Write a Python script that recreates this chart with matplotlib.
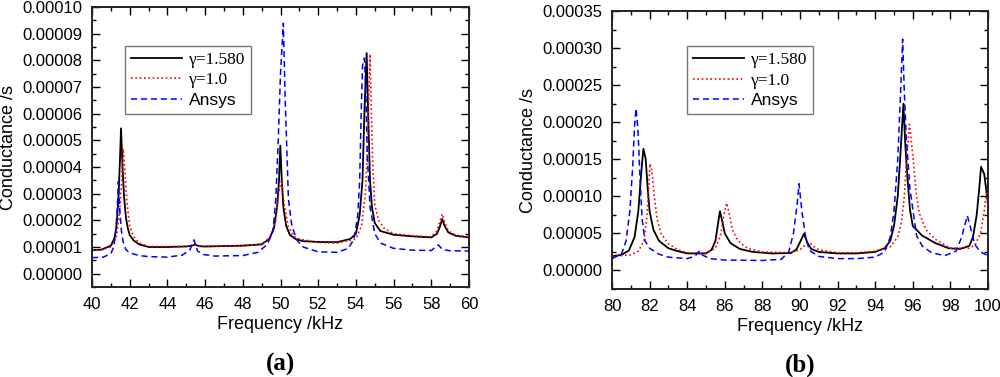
import matplotlib
matplotlib.use('Agg')
import matplotlib.pyplot as plt
from matplotlib.ticker import MultipleLocator, FormatStrFormatter

plt.rcParams['font.family'] = 'Liberation Sans'

# conductance values below are in units of 1e-5 S
SCALE = 1e-5

# ---- panel (a) ----
a_fit_f = [40, 40.5, 41.0, 41.2, 41.3, 41.4, 41.48, 41.54, 41.62, 41.7, 41.8, 41.9, 42.0, 42.2,
           42.5, 43, 44, 45, 45.3, 45.46, 45.7, 46, 48, 49, 49.4, 49.65, 49.82, 49.92, 49.99,
           50.07, 50.15, 50.3, 50.5, 50.8, 51.2, 52, 53, 53.7, 54.0, 54.2, 54.35, 54.45, 54.57,
           54.65, 54.75, 54.85, 55.0, 55.3, 56, 57, 58, 58.3, 58.45, 58.58, 58.7, 58.9, 59.3, 60]
a_fit_g = [0.88, 0.9, 1.05, 1.35, 1.8, 2.8, 4.2, 5.45, 4.0, 2.9, 2.1, 1.7, 1.45, 1.25,
           1.1, 1.0, 1.0, 1.02, 1.05, 1.09, 1.03, 1.02, 1.05, 1.1, 1.3, 1.7, 2.5, 3.5, 4.8,
           3.5, 2.5, 1.8, 1.45, 1.3, 1.22, 1.19, 1.18, 1.3, 1.5, 2.2, 3.5, 6.0, 8.27,
           6.0, 3.5, 2.5, 1.9, 1.6, 1.46, 1.4, 1.36, 1.5, 1.75, 2.05, 1.8, 1.55, 1.42, 1.36]

a_one_f = [40, 40.5, 41.0, 41.3, 41.45, 41.55, 41.66, 41.75, 41.85, 42.0, 42.2, 42.5, 43, 45,
           45.3, 45.5, 45.7, 46, 48, 49, 49.5, 49.75, 49.9, 50.05, 50.2, 50.4, 50.7, 51, 52, 53,
           54.0, 54.3, 54.5, 54.6, 54.68, 54.75, 54.82, 54.9, 55.0, 55.2, 55.5, 56, 57, 58,
           58.3, 58.45, 58.58, 58.7, 58.9, 59.3, 60]
a_one_g = [0.88, 0.9, 1.0, 1.4, 2.2, 3.2, 4.68, 3.8, 2.7, 1.8, 1.4, 1.15, 1.02, 1.02,
           1.05, 1.1, 1.04, 1.02, 1.05, 1.1, 1.4, 2.0, 3.0, 3.5, 2.6, 1.8, 1.4, 1.3, 1.17, 1.15,
           1.3, 1.8, 3.0, 4.5, 6.5, 8.23, 6.0, 4.0, 2.6, 2.0, 1.7, 1.5, 1.42, 1.38,
           1.6, 1.95, 2.24, 1.95, 1.6, 1.45, 1.38]

a_ansys_f = [40, 40.6, 41.0, 41.15, 41.25, 41.33, 41.4, 41.48, 41.56, 41.65, 41.8, 42.0, 42.5, 43,
             44, 44.8, 45.2, 45.41, 45.6, 45.9, 46.5, 48, 48.8, 49.3, 49.6, 49.75, 49.88, 50.0,
             50.15, 50.25, 50.33, 50.42, 50.6, 50.86, 51.2, 52, 53, 53.6, 53.9, 54.1, 54.2, 54.28,
             54.35, 54.45, 54.52, 54.6, 54.75, 55.0, 55.3, 56, 57, 58, 58.37, 58.6, 59, 60]
a_ansys_g = [0.6, 0.62, 0.75, 1.0, 1.5, 2.3, 3.46, 2.3, 1.6, 1.2, 0.9, 0.78, 0.68, 0.64,
             0.62, 0.7, 0.9, 1.27, 0.85, 0.72, 0.66, 0.68, 0.8, 1.1, 1.6, 2.8, 5.0, 7.5,
             9.39, 6.5, 4.8, 2.8, 1.8, 1.27, 1.0, 0.82, 0.8, 0.95, 1.3, 2.2, 3.5, 6.0,
             7.8, 8.08, 7.0, 4.5, 2.5, 1.5, 1.15, 0.95, 0.88, 0.87, 1.08, 0.9, 0.86, 0.85]

# ---- panel (b) ----
b_fit_f = [80, 80.5, 80.9, 81.2, 81.4, 81.55, 81.67, 81.79, 81.9, 82.0, 82.2, 82.5, 83, 83.5,
           84, 85, 85.3, 85.5, 85.65, 85.74, 85.85, 86.0, 86.3, 86.8, 87.5, 88.5, 89.5, 89.8,
           90.0, 90.21, 90.4, 90.6, 91, 92, 93, 94, 94.5, 94.8, 95.0, 95.2, 95.35, 95.5, 95.6,
           95.7, 95.85, 96.0, 96.5, 97.2, 97.9, 98.5, 99.0, 99.2, 99.4, 99.55, 99.63, 99.8, 99.9, 100]
b_fit_g = [1.93, 2.1, 2.7, 4.5, 8, 13, 16.4, 15.1, 11, 8, 5.5, 4, 3, 2.6,
           2.3, 2.3, 2.8, 4, 6.5, 8.0, 6.8, 5, 3.7, 2.9, 2.5, 2.3, 2.35, 2.8,
           3.8, 4.95, 3.7, 2.9, 2.5, 2.3, 2.3, 2.5, 3.0, 4, 6, 10, 16, 22.5, 17,
           13, 8.2, 6.0, 4.7, 3.7, 3.0, 2.9, 3.3, 4.5, 7.5, 11.5, 14.0, 13.0, 11, 9]

b_one_f = [80, 81, 81.4, 81.7, 81.85, 81.95, 82.02, 82.12, 82.25, 82.4, 82.6, 83, 83.5, 84,
           85, 85.5, 85.8, 85.95, 86.1, 86.25, 86.4, 86.7, 87.2, 88, 89.5, 90, 90.3, 90.5,
           90.7, 91, 92, 93, 94, 94.8, 95.2, 95.4, 95.55, 95.7, 95.82, 95.9, 96.0, 96.2,
           96.35, 96.7, 97.2, 98, 99, 99.3, 99.6, 99.8, 100]
b_one_g = [1.9, 2.1, 2.6, 4, 7, 11, 14.4, 13.5, 10, 7, 5, 3.6, 2.8, 2.4,
           2.3, 3, 5, 7.5, 9.1, 7.5, 5.5, 4, 3, 2.5, 2.4, 2.8, 3.5, 3.8,
           3.3, 2.8, 2.4, 2.4, 2.6, 3.2, 4.5, 6.5, 10, 16, 19.7, 18, 15.5, 10,
           7.7, 5.5, 4.2, 3.0, 3.0, 3.4, 5, 8, 12.2]

b_ansys_f = [80, 80.5, 80.75, 80.95, 81.1, 81.2, 81.28, 81.38, 81.5, 81.6, 81.75, 82.0, 82.5, 83,
             84, 84.4, 84.64, 84.8, 85.2, 86, 88, 89, 89.4, 89.65, 89.85, 89.95, 90.1, 90.3,
             90.5, 91, 92, 93, 94, 94.5, 94.8, 95.0, 95.2, 95.35, 95.46, 95.55, 95.65, 95.85,
             96.2, 96.5, 97.0, 97.7, 98.3, 98.6, 98.9, 99.1, 99.3, 99.6, 100]
b_ansys_g = [1.6, 2.2, 4, 8, 14, 19.5, 21.85, 19, 12, 7, 4, 3, 2.2, 1.8,
             1.6, 1.9, 2.6, 2.1, 1.6, 1.4, 1.35, 1.5, 2.5, 5, 9, 11.7, 8, 4.5,
             2.7, 1.9, 1.6, 1.6, 1.8, 2.5, 4.5, 8, 15, 24, 31.2, 24, 18, 11,
             4.7, 3.3, 2.4, 2.0, 2.6, 4.5, 7.4, 5.5, 3.5, 2.5, 2.0]

legend_labels = ['\u03b3=1.580', '\u03b3=1.0', 'Ansys']


def draw_panel(ax, series, xlim, ylim, ymajor, legend_anchor, tag):
    styles = [dict(color='black', lw=1.3, ls='-'),
              dict(color='red', lw=1.2, ls=(0, (1, 1.6))),
              dict(color='blue', lw=1.1, ls=(0, (4, 2.5)))]
    for (f, g), st, lab in zip(series, styles, legend_labels):
        ax.plot(f, [v * SCALE for v in g], label=lab, **st)

    ax.set_xlim(*xlim)
    ax.set_ylim(*ylim)
    ax.xaxis.set_major_locator(MultipleLocator(2))
    ax.xaxis.set_minor_locator(MultipleLocator(1))
    ax.yaxis.set_major_locator(MultipleLocator(ymajor))
    ax.yaxis.set_minor_locator(MultipleLocator(ymajor / 2))
    ax.yaxis.set_major_formatter(FormatStrFormatter('%.5f'))
    ax.tick_params(which='both', direction='in', top=True, right=True, labelsize=12,
                   width=1.0, pad=7)
    ax.tick_params(which='major', length=6)
    ax.tick_params(which='minor', length=3)
    for sp in ax.spines.values():
        sp.set_linewidth(1.4)
        sp.set_color('#222222')

    ax.set_xlabel('Frequency /kHz', fontsize=13)
    ax.xaxis.set_label_coords(0.5, -0.105)
    ax.set_ylabel('Conductance /s', fontsize=13)
    ax.yaxis.set_label_coords(-0.2, 0.5)

    leg = ax.legend(loc='upper left', bbox_to_anchor=legend_anchor, borderaxespad=0,
                    fancybox=False, edgecolor='#777777', framealpha=1, fontsize=12.5,
                    handlelength=2.9, handletextpad=0.4, labelspacing=0.25,
                    borderpad=0.35)
    leg.get_frame().set_linewidth(1.0)
    texts = leg.get_texts()
    texts[0].set_fontfamily('Liberation Serif')
    texts[1].set_fontfamily('Liberation Serif')

    ax.text(0.5, -0.275, tag, transform=ax.transAxes, ha='center', va='center',
            fontsize=18, fontweight='bold', family='Liberation Serif')


fig = plt.figure(figsize=(10, 3.77), dpi=100)
ax_a = fig.add_axes([0.092, 0.2387, 0.377, 0.7427])
ax_b = fig.add_axes([0.612, 0.2334, 0.376, 0.7374])

draw_panel(ax_a, [(a_fit_f, a_fit_g), (a_one_f, a_one_g), (a_ansys_f, a_ansys_g)],
           (40, 60), (-0.000005, 0.0001), 0.00001, (0.088, 0.862), '(a)')
draw_panel(ax_b, [(b_fit_f, b_fit_g), (b_one_f, b_one_g), (b_ansys_f, b_ansys_g)],
           (80, 100), (-0.000025, 0.00035), 0.00005, (0.2, 0.874), '(b)')

fig.savefig('out.png', dpi=100)
